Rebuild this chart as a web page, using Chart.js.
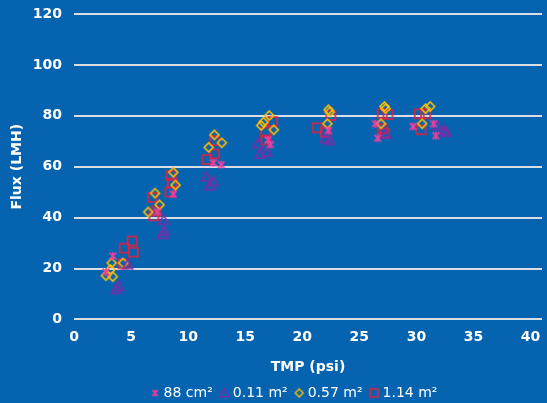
<!DOCTYPE html>
<html>
<head>
<meta charset="utf-8">
<script src="https://cdn.jsdelivr.net/npm/chart.js@4/dist/chart.umd.min.js"></script>
<style>
  html, body { margin: 0; padding: 0; background: #0563B0; }
  #wrap { width: 547px; height: 403px; }
  canvas { display: block; }
</style>
</head>
<body>
<div id="wrap"><canvas id="c" width="547" height="403"></canvas></div>
<script>
// Axis ticks
const xTicks = [0, 5, 10, 15, 20, 25, 30, 35, 40];
const yTicks = [0, 20, 40, 60, 80, 100, 120];

// Series labels
const seriesNames = ['88 cm\u00B2', '0.11 m\u00B2', '0.57 m\u00B2', '1.14 m\u00B2'];

// 88 cm² membrane
const tmp88 = [2.8, 3.4, 7.3, 8.7, 12.2, 12.9, 17.0, 17.2, 22.3, 26.4, 26.6, 29.7, 31.5, 31.7];
const flux88 = [18.6, 24.9, 42.3, 49.2, 61.5, 60.8, 70.5, 68.7, 74.2, 76.9, 71.2, 75.8, 76.9, 72.2];

// 0.11 m² module
const tmp011 = [3.7, 3.9, 4.7, 7.75, 7.85, 7.9, 11.6, 11.9, 12.2, 16.1, 16.3, 16.9, 22.0, 22.4, 27.3, 31.8, 32.4, 32.6];
const flux011 = [11.8, 13.0, 21.5, 33.4, 39.0, 34.7, 56.0, 52.5, 54.2, 69.0, 65.0, 65.7, 71.0, 70.3, 72.9, 76.2, 74.2, 73.6];

// 0.57 m² module
const tmp057 = [2.8, 3.2, 3.3, 3.4, 4.3, 6.5, 7.1, 7.5, 8.7, 8.9, 11.8, 12.3, 12.95, 16.4, 16.6, 17.1, 17.5, 22.2, 22.3, 22.4, 26.9, 27.2, 27.3, 30.5, 30.8, 31.2];
const flux057 = [17.2, 19.6, 22.2, 16.8, 22.2, 42.2, 49.6, 45.0, 57.8, 52.8, 67.6, 72.5, 69.4, 76.2, 77.5, 80.1, 74.5, 76.9, 82.4, 81.5, 76.9, 83.7, 82.8, 76.9, 82.8, 83.7];

// 1.14 m² module
const tmp114 = [4.3, 4.4, 5.1, 5.2, 6.9, 7.0, 7.2, 8.4, 8.5, 8.6, 11.65, 12.3, 12.3, 16.8, 16.8, 17.4, 21.3, 22.0, 22.5, 27.0, 27.0, 27.2, 27.5, 30.25, 30.4, 30.8];
const flux114 = [21.8, 28.0, 30.8, 26.4, 47.9, 40.7, 42.6, 50.1, 56.5, 53.6, 62.8, 70.3, 65.0, 73.6, 70.5, 77.8, 75.3, 73.6, 80.1, 80.8, 74.9, 73.2, 80.5, 80.8, 74.5, 80.8];

const colors = ['#EE3F9E', '#7A2FA8', '#FFC000', '#E8203E'];
const shapes = ['star', 'triangle', 'diamond', 'square'];

// Small outline marker drawn onto its own canvas
function makeIcon(kind, color, size, lw) {
  const dim = Math.ceil(size + lw * 2 + 2);
  const cv = document.createElement('canvas');
  cv.width = dim; cv.height = dim;
  const g = cv.getContext('2d');
  g.translate(dim / 2, dim / 2);
  g.strokeStyle = color;
  g.lineWidth = lw;
  g.lineJoin = 'miter';
  const h = size / 2;
  g.beginPath();
  if (kind === 'star') {
    g.moveTo(-h * 0.85, -h * 0.85); g.lineTo(h * 0.85, h * 0.85);
    g.moveTo(-h * 0.85, h * 0.85); g.lineTo(h * 0.85, -h * 0.85);
    g.moveTo(0, -h); g.lineTo(0, h);
  } else if (kind === 'triangle') {
    g.moveTo(0, -h); g.lineTo(h, h * 0.8); g.lineTo(-h, h * 0.8); g.closePath();
  } else if (kind === 'diamond') {
    g.moveTo(0, -h); g.lineTo(h, 0); g.lineTo(0, h); g.lineTo(-h, 0); g.closePath();
  } else {
    g.rect(-h, -h, size, size);
  }
  g.stroke();
  return cv;
}

const pointSizes = [8, 10, 9, 9];
const legendSizes = [7, 9, 8, 8];
const pointIcons = shapes.map((s, i) => makeIcon(s, colors[i], pointSizes[i], 1.6));
const legendIcons = shapes.map((s, i) => makeIcon(s, colors[i], legendSizes[i], 1.4));

const xs = [tmp88, tmp011, tmp057, tmp114];
const ys = [flux88, flux011, flux057, flux114];

const datasets = seriesNames.map((name, i) => ({
  label: name,
  data: xs[i].map((x, k) => ({ x: x, y: ys[i][k] })),
  pointStyle: pointIcons[i],
  pointRadius: 4,
  pointHoverRadius: 4,
  borderColor: colors[i],
  backgroundColor: colors[i],
  showLine: false
}));

const FONT = '"DejaVu Sans", Verdana, sans-serif';
const legendShift = 22;

const shiftLegend = {
  id: 'shiftLegend',
  afterLayout(chart) {
    const lg = chart.legend;
    if (lg) { lg.left += legendShift; lg.right += legendShift; }
  }
};

new Chart(document.getElementById('c'), {
  type: 'scatter',
  data: { datasets: datasets },
  plugins: [shiftLegend],
  options: {
    responsive: false,
    animation: false,
    events: [],
    layout: { padding: { top: 14, right: 0, bottom: -7, left: 0 } },
    scales: {
      x: {
        type: 'linear',
        min: 0,
        max: 41,
        afterBuildTicks: (axis) => { axis.ticks = xTicks.map(v => ({ value: v })); },
        afterFit: (axis) => { axis.paddingRight = 0; },
        grid: { display: false, drawTicks: false },
        border: { display: false },
        ticks: { color: '#FFFFFF', font: { family: FONT, size: 14, weight: 'bold' }, padding: 10, maxRotation: 0 },
        title: { display: true, text: 'TMP (psi)', color: '#FFFFFF', font: { family: FONT, size: 14, weight: 'bold' }, padding: { top: 3, bottom: 0 } }
      },
      y: {
        min: 0,
        max: 120,
        afterBuildTicks: (axis) => { axis.ticks = yTicks.map(v => ({ value: v })); },
        afterFit: (axis) => { axis.width = 74; axis.paddingTop = 0; },
        grid: { color: '#D9DEE6', lineWidth: 2, drawTicks: false },
        border: { display: false },
        ticks: { color: '#FFFFFF', font: { family: FONT, size: 14, weight: 'bold' }, padding: 12 },
        title: { display: true, text: 'Flux (LMH)', color: '#FFFFFF', font: { family: FONT, size: 14, weight: 'bold' }, padding: { top: 8.6, bottom: 0 } }
      }
    },
    plugins: {
      tooltip: { enabled: false },
      legend: {
        position: 'bottom',
        labels: {
          color: '#FFFFFF',
          font: { family: FONT, size: 14 },
          usePointStyle: true,
          boxWidth: 3,
          padding: 10,
          generateLabels(chart) {
            const items = Chart.defaults.plugins.legend.labels.generateLabels(chart);
            items.forEach((it) => { it.pointStyle = legendIcons[it.datasetIndex]; });
            return items;
          }
        }
      }
    }
  }
});
</script>
</body>
</html>
